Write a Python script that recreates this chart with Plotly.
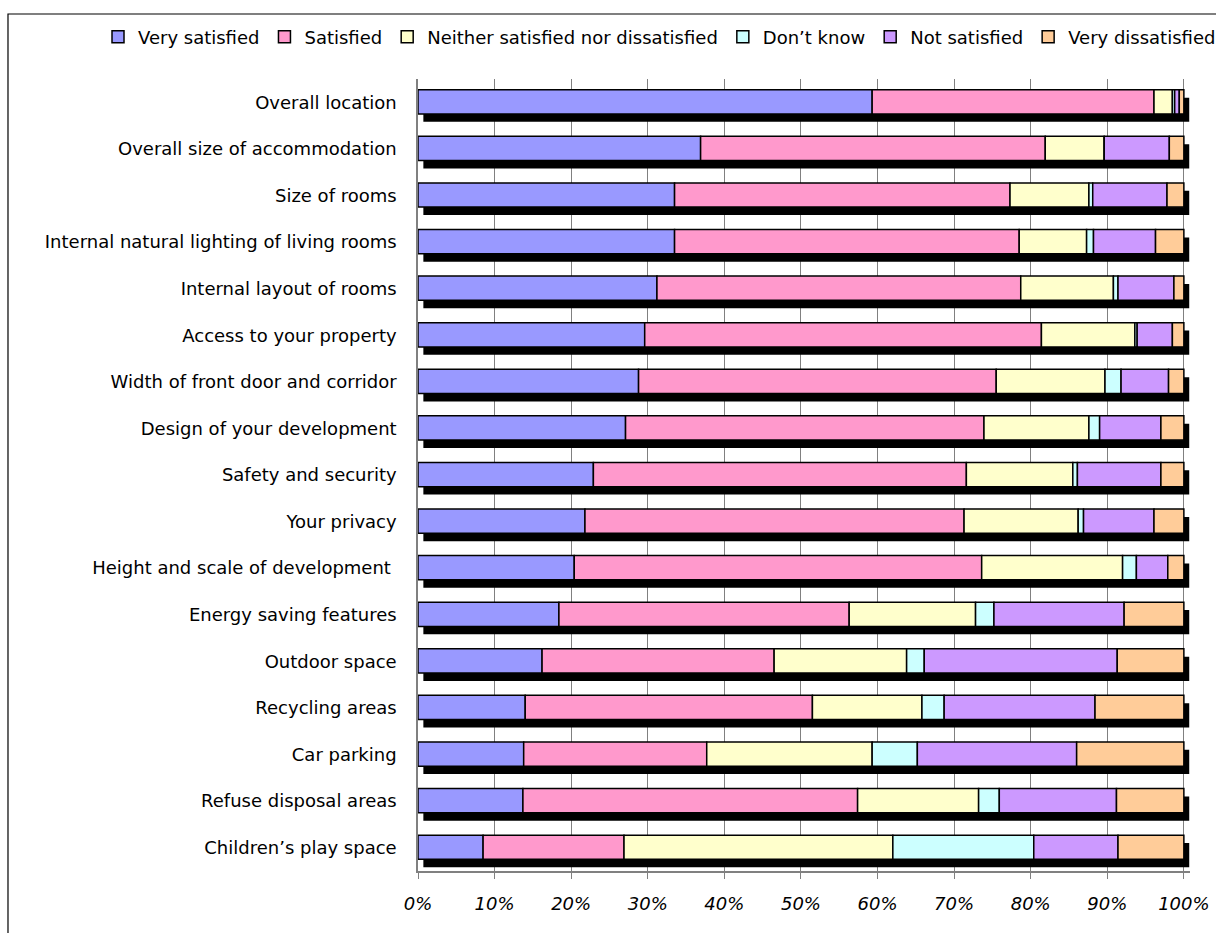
import numpy as np
import plotly.graph_objects as go

categories = [
    "Overall location",
    "Overall size of accommodation",
    "Size of rooms",
    "Internal natural lighting of living rooms",
    "Internal layout of rooms",
    "Access to your property",
    "Width of front door and corridor",
    "Design of your development",
    "Safety and security",
    "Your privacy",
    "Height and scale of development\u00a0",
    "Energy saving features",
    "Outdoor space",
    "Recycling areas",
    "Car parking",
    "Refuse disposal areas",
    "Children\u2019s play space",
]

very_satisfied = [59.3, 36.9, 33.5, 33.5, 31.2, 29.6, 28.8, 27.1, 22.9, 21.8, 20.4, 18.4, 16.2, 14.0, 13.8, 13.7, 8.5]
satisfied = [36.8, 45.0, 43.8, 45.0, 47.5, 51.8, 46.7, 46.8, 48.7, 49.5, 53.2, 37.9, 30.3, 37.5, 23.9, 43.7, 18.4]
neither = [2.4, 7.7, 10.3, 8.8, 12.1, 12.2, 14.2, 13.7, 13.9, 14.9, 18.4, 16.5, 17.3, 14.3, 21.6, 15.8, 35.1]
dont_know = [0.3, 0.0, 0.5, 0.9, 0.6, 0.3, 2.1, 1.4, 0.6, 0.7, 1.8, 2.4, 2.3, 2.9, 5.9, 2.7, 18.4]
not_satisfied = [0.6, 8.5, 9.7, 8.1, 7.3, 4.6, 6.2, 8.0, 10.9, 9.2, 4.1, 17.0, 25.2, 19.7, 20.8, 15.3, 11.0]
very_dissatisfied = [0.6, 1.9, 2.2, 3.7, 1.3, 1.5, 2.0, 3.0, 3.0, 3.9, 2.1, 7.8, 8.7, 11.6, 14.0, 8.8, 8.6]

series_names = ["Very satisfied", "Satisfied", "Neither satisfied nor dissatisfied",
                "Don\u2019t know", "Not satisfied", "Very dissatisfied"]
series_values = [very_satisfied, satisfied, neither, dont_know, not_satisfied, very_dissatisfied]
series_colors = ["#9999FF", "#FF99CC", "#FFFFCC", "#CCFFFF", "#CC99FF", "#FFCC99"]

tick_values = [0, 10, 20, 30, 40, 50, 60, 70, 80, 90, 100]
tick_labels = ["0%", "10%", "20%", "30%", "40%", "50%", "60%", "70%", "80%", "90%", "100%"]

FONT = "Tahoma, 'DejaVu Sans', sans-serif"

fig = go.Figure()

# drop shadow behind each stacked bar (derived from the row totals)
totals = np.sum(np.array(series_values), axis=0)
fig.add_trace(go.Bar(
    y=categories, x=totals, base=0.7, orientation="h",
    width=0.52, offset=-0.1,
    marker=dict(color="black", line=dict(width=0)),
    showlegend=False, hoverinfo="skip",
))

cum = np.zeros(len(categories))
for name, vals, col in zip(series_names, series_values, series_colors):
    vals = np.array(vals)
    fig.add_trace(go.Bar(
        y=categories, x=vals, base=cum.copy(), orientation="h",
        width=0.52, offset=-0.27, name=name,
        marker=dict(color=col, line=dict(color="black", width=1.5)),
    ))
    cum = cum + vals

n = len(categories)
fig.update_layout(
    width=1216, height=933,
    barmode="overlay",
    plot_bgcolor="white", paper_bgcolor="white",
    margin=dict(l=418, r=26, t=79, b=62, autoexpand=False),
    font=dict(family=FONT, size=18, color="black"),
    showlegend=True,
    legend=dict(
        orientation="h", x=-0.4145, xanchor="left", y=1.053, yanchor="middle",
        font=dict(family=FONT, size=18, color="black"),
        itemwidth=30, traceorder="normal", bgcolor="rgba(0,0,0,0)",
    ),
    xaxis=dict(
        range=[0, 100.8], tickvals=tick_values, ticktext=tick_labels,
        showgrid=True, gridcolor="#808080", gridwidth=1,
        zeroline=False, showline=True, linecolor="#808080", linewidth=1.5,
        ticks="outside", ticklen=6, tickcolor="#808080",
        tickfont=dict(family=FONT, size=18, style="italic", color="black"),
        ticklabelstandoff=10,
    ),
    yaxis=dict(
        type="category", categoryorder="array", categoryarray=categories,
        range=[n - 0.5, -0.5], autorange=False,
        showgrid=False, zeroline=False, showline=True, linecolor="#808080", linewidth=1.5,
        ticks="", tickfont=dict(family=FONT, size=18, color="black"),
        ticklabelstandoff=16,
    ),
    shapes=[dict(
        type="rect", xref="paper", yref="paper",
        x0=-0.5311, x1=1.2, y0=-0.3, y1=1.0821,
        line=dict(color="black", width=1.2), fillcolor="rgba(0,0,0,0)", layer="below",
    )],
)

fig.write_html("out.html")
